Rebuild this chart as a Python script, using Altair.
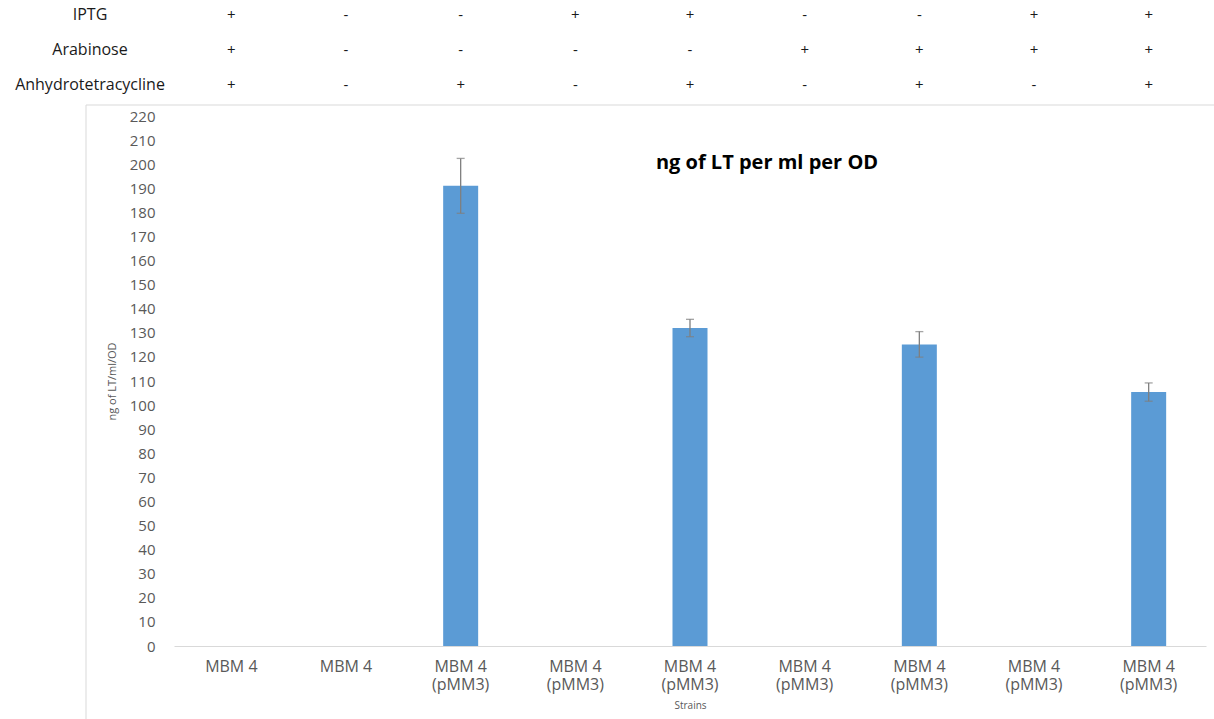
import altair as alt
import pandas as pd

# ---- data ----
strain_labels = ["MBM 4", "MBM 4", "MBM 4|(pMM3)", "MBM 4|(pMM3)", "MBM 4|(pMM3)",
                 "MBM 4|(pMM3)", "MBM 4|(pMM3)", "MBM 4|(pMM3)", "MBM 4|(pMM3)"]
values = [0, 0, 191, 0, 132, 0, 125.2, 0, 105.4]
errors = [0, 0, 11.4, 0, 3.6, 0, 5.3, 0, 3.8]
treatments = ["IPTG", "Arabinose", "Anhydrotetracycline"]
iptg = ["+", "-", "-", "+", "+", "-", "-", "+", "+"]
arabinose = ["+", "-", "-", "-", "-", "+", "+", "+", "+"]
atc = ["+", "-", "+", "-", "+", "-", "+", "-", "+"]
y_ticks = list(range(0, 221, 10))
chart_title = "ng of LT per ml per OD"
y_title = "ng of LT/ml/OD"
x_title = "Strains"

FONT = "Open Sans"
GRAY = "#595959"

idx = list(range(len(values)))
df = pd.DataFrame({
    "idx": idx,
    "value": values,
    "lo": [v - e for v, e in zip(values, errors)],
    "hi": [v + e for v, e in zip(values, errors)],
    "haserr": [e > 0 for e in errors],
})

rows = []
for r, (t, signs) in enumerate(zip(treatments, [iptg, arabinose, atc])):
    for i, s in enumerate(signs):
        rows.append({"idx": i, "row": r, "treatment": t, "sign": s})
table_df = pd.DataFrame(rows)
label_df = pd.DataFrame({"treatment": treatments, "row": list(range(len(treatments)))})

label_array = "[" + ",".join("'" + s + "'" for s in strain_labels) + "]"

x_axis = alt.Axis(
    title=x_title,
    labelExpr="split(" + label_array + "[datum.value], '|')",
    labelAngle=0,
    labelFont=FONT, labelFontSize=16, labelColor=GRAY,
    labelPadding=12, labelLineHeight=18,
    ticks=False, domainColor="#d9d9d9",
    titleFont=FONT, titleFontSize=10, titleFontWeight="normal",
    titleColor=GRAY, titleY=59, titleBaseline="middle",
)
x_scale = alt.Scale(paddingInner=0, paddingOuter=0)

y_axis = alt.Axis(
    values=y_ticks, grid=False, ticks=False, domain=False,
    labelOverlap=False,
    labelFont=FONT, labelFontSize=15, labelColor=GRAY, labelPadding=19,
    title=y_title, titleFont=FONT, titleFontSize=11,
    titleFontWeight="normal", titleColor=GRAY,
    titleX=-57, titleY=265, titleAngle=-90, titleAlign="center",
    titleBaseline="bottom",
)
y_scale = alt.Scale(domain=[0, 220], nice=False)


def xenc():
    return alt.X("idx:O", scale=x_scale, axis=x_axis)


bars = alt.Chart(df).mark_bar(color="#5B9BD5", size=35).encode(
    x=xenc(),
    y=alt.Y("value:Q", scale=y_scale, axis=y_axis, title=y_title),
)

err_df_filter = alt.datum.haserr
err = alt.Chart(df).transform_filter(err_df_filter).mark_rule(
    color="#7f7f7f", strokeWidth=1.3
).encode(x=xenc(), y=alt.Y("lo:Q", scale=y_scale, axis=y_axis, title=y_title), y2="hi:Q")

cap_lo = alt.Chart(df).transform_filter(err_df_filter).mark_tick(
    color="#7f7f7f", size=8, thickness=1.3
).encode(x=xenc(), y=alt.Y("lo:Q", scale=y_scale, axis=y_axis, title=y_title))
cap_hi = alt.Chart(df).transform_filter(err_df_filter).mark_tick(
    color="#7f7f7f", size=8, thickness=1.3
).encode(x=xenc(), y=alt.Y("hi:Q", scale=y_scale, axis=y_axis, title=y_title))

title_mark = alt.Chart(pd.DataFrame({"t": [chart_title]})).mark_text(
    font=FONT, fontSize=20, fontWeight="bold", color="#000000",
    align="center", baseline="middle"
).encode(text="t:N", x=alt.value(593), y=alt.value(47))

frame_top = alt.Chart(pd.DataFrame({"a": [0]})).mark_rule(
    color="#d9d9d9", strokeWidth=1
).encode(x=alt.value(-88), x2=alt.value(1040), y=alt.value(-11))
frame_left = alt.Chart(pd.DataFrame({"a": [0]})).mark_rule(
    color="#d9d9d9", strokeWidth=1
).encode(x=alt.value(-88), y=alt.value(-11), y2=alt.value(603))

main = alt.layer(bars, err, cap_lo, cap_hi, title_mark, frame_top, frame_left)

row_scale = alt.Scale(domain=[0, len(treatments) - 1], range=[-101, -31], nice=False, zero=False)

signs_layer = alt.Chart(table_df).mark_text(
    font=FONT, fontSize=15, color="#1a1a1a", align="center", baseline="middle"
).encode(
    x=xenc(),
    y=alt.Y("row:Q", scale=row_scale, axis=None),
    text="sign:N",
)
row_labels = alt.Chart(label_df).mark_text(
    font=FONT, fontSize=16, color="#1a1a1a", align="center", baseline="middle"
).encode(
    x=alt.value(-84),
    y=alt.Y("row:Q", scale=row_scale, axis=None),
    text="treatment:N",
)
table = alt.layer(signs_layer, row_labels)

chart = alt.layer(main, table).resolve_scale(y="independent").properties(
    width=1032, height=530,
    autosize=alt.AutoSizeParams(type="none"),
    padding={"left": 174, "top": 116, "right": 8, "bottom": 73},
    background="white",
).configure_view(stroke=None)

chart.save("out.html", embed_options={"renderer": "svg", "actions": False})
